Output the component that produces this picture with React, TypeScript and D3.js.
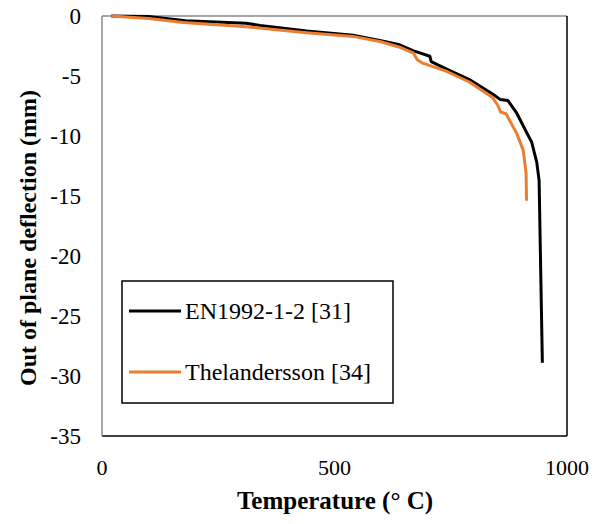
import React from 'react';
import * as d3 from 'd3';

// EN1992-1-2 [31] : temperature (°C), deflection (mm)
const enTemp = [20, 100, 180, 310, 340, 440, 540, 600, 640, 670, 685, 705, 708, 740, 790, 840, 856, 873, 892, 913, 924, 935, 940, 947];
const enDefl = [0, -0.05, -0.4, -0.6, -0.8, -1.25, -1.6, -2.05, -2.4, -2.9, -3.1, -3.35, -3.8, -4.4, -5.3, -6.5, -6.95, -7.05, -8.1, -9.7, -10.5, -12.2, -13.7, -28.9];

// Thelandersson [34]
const thTemp = [20, 100, 175, 310, 440, 540, 600, 640, 670, 678, 688, 740, 790, 840, 852, 857, 869, 892, 906, 912, 913];
const thDefl = [0, -0.2, -0.55, -0.9, -1.4, -1.7, -2.15, -2.6, -3.1, -3.65, -3.9, -4.6, -5.5, -6.8, -7.5, -8.0, -8.15, -9.8, -11.2, -13.1, -15.4];

const xTicks = [0, 500, 1000];
const yTicks = [0, -5, -10, -15, -20, -25, -30, -35];

const seriesNames = ['EN1992-1-2 [31]', 'Thelandersson [34]'];
const seriesColors = ['#000000', '#ED7D31'];

const W = 602;
const H = 524;
const left = 102, right = 567, top = 16, bottom = 436;

const font = "'Liberation Serif', 'Times New Roman', Times, serif";

const App = () => {
  const x = d3.scaleLinear().domain([0, 1000]).range([left, right]);
  const y = d3.scaleLinear().domain([-35, 0]).range([bottom, top]);

  const line = d3
    .line<[number, number]>()
    .x((d) => x(d[0]))
    .y((d) => y(d[1]));

  const series = [
    enTemp.map((t, i) => [t, enDefl[i]] as [number, number]),
    thTemp.map((t, i) => [t, thDefl[i]] as [number, number]),
  ];

  const txt = { fontFamily: font };

  return (
    <svg width={W} height={H} style={{ position: 'absolute', left: 0, top: 0 }}>
      <rect width={W} height={H} fill="#fff" />
      {/* plot frame */}
      <line x1={left} x2={right} y1={top} y2={top} stroke="#898989" strokeWidth={1.5} />
      <line x1={right} x2={right} y1={top} y2={bottom} stroke="#000" strokeWidth={1.5} />
      <line x1={left} x2={right} y1={bottom} y2={bottom} stroke="#000" strokeWidth={1.5} />
      <line x1={left} x2={left} y1={top} y2={bottom} stroke="#898989" strokeWidth={1.5} />

      {yTicks.map((t) => (
        <text key={t} x={81} y={y(t)} dy="0.36em" textAnchor="end" fontSize={23} style={txt}>
          {t}
        </text>
      ))}
      {xTicks.map((t) => (
        <text key={t} x={x(t)} y={475} textAnchor="middle" fontSize={22} style={txt}>
          {t}
        </text>
      ))}

      <text x={335} y={509} textAnchor="middle" fontSize={25} fontWeight="bold" style={txt}>
        Temperature (° C)
      </text>
      <text
        transform={`translate(36,238) rotate(-90)`}
        textAnchor="middle"
        fontSize={24}
        fontWeight="bold"
        style={txt}
      >
        Out of plane deflection (mm)
      </text>

      {series.map((s, i) => (
        <path key={i} d={line(s) || ''} fill="none" stroke={seriesColors[i]} strokeWidth={3} strokeLinejoin="round" />
      ))}

      {/* legend */}
      <rect x={122} y={281} width={271} height={122} fill="#fff" stroke="#000" strokeWidth={1.5} />
      {seriesNames.map((name, i) => {
        const ly = 311 + i * 61;
        return (
          <g key={name}>
            <line x1={129} x2={181} y1={ly} y2={ly} stroke={seriesColors[i]} strokeWidth={3} />
            <text x={185} y={ly} dy="0.34em" fontSize={24} style={txt}>
              {name}
            </text>
          </g>
        );
      })}
    </svg>
  );
};

export default App;
